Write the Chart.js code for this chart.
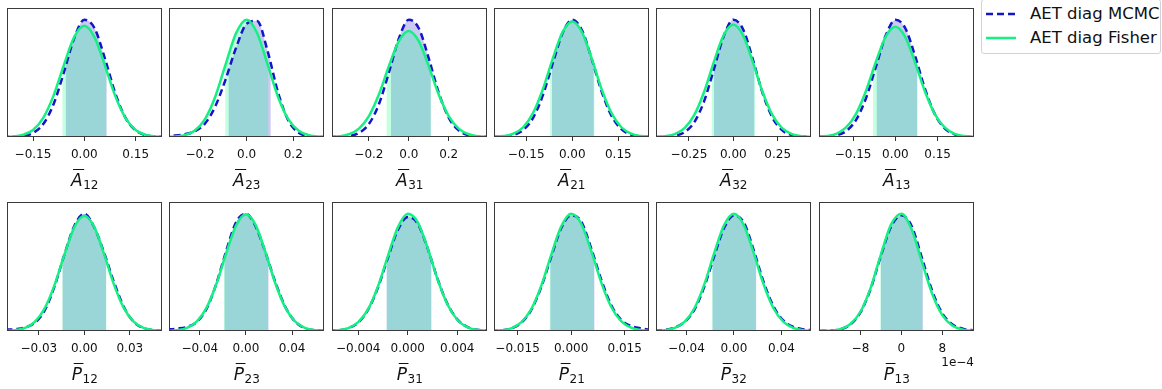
<!DOCTYPE html>
<html lang="en">
<head>
<meta charset="UTF-8">
<title>AET diag MCMC vs Fisher</title>
<script src="https://cdn.jsdelivr.net/npm/chart.js"></script>
<style>
    body { margin: 0; background: #fff; font-family: 'DejaVu Sans', sans-serif; }
    #wrap { position: relative; width: 1162px; height: 389px; overflow: hidden; }
    #wrap canvas { position: absolute; }
    #legend {
        position: absolute; left: 981px; top: -1px; width: 178px; height: 53px;
        border: 1px solid #d3d3d3; border-radius: 3px; background: #fff;
    }
    #legend .item { position: absolute; left: 4px; height: 20px; display: flex; align-items: center; }
    #legend svg { margin-right: 14px; }
    #legend span { font-family: 'DejaVu Sans', sans-serif; font-size: 16.5px; line-height: 20px; color: #111; white-space: nowrap; }
</style>
</head>
<body>
<div id="wrap">
    <div id="legend">
        <div class="item" style="top:4px">
            <svg width="30" height="6"><line x1="0" y1="3" x2="30" y2="3" stroke="rgb(20,20,200)" stroke-width="2.5" stroke-dasharray="7 4"/></svg>
            <span>AET diag MCMC</span>
        </div>
        <div class="item" style="top:28px">
            <svg width="30" height="6"><line x1="0" y1="3" x2="30" y2="3" stroke="rgb(20,240,130)" stroke-width="2.5"/></svg>
            <span>AET diag Fisher</span>
        </div>
    </div>
</div>

<script>
// parameter names: letter + subscript
const symbols = ['A', 'A', 'A', 'A', 'A', 'A', 'P', 'P', 'P', 'P', 'P', 'P'];
const subscripts = ['12', '23', '31', '21', '32', '13', '12', '23', '31', '21', '32', '13'];

// axis limits, ticks and tick labels per panel
const xLimits = [
    [-0.226, 0.227], [-0.333, 0.332], [-0.385, 0.392], [-0.255, 0.250], [-0.436, 0.438], [-0.271, 0.279],
    [-0.051, 0.0512], [-0.0667, 0.0676], [-0.00612, 0.0064], [-0.0216, 0.0218], [-0.0657, 0.0649], [-16.1e-4, 14.2e-4]
];
const tickValues = [
    [-0.15, 0, 0.15], [-0.2, 0, 0.2], [-0.2, 0, 0.2], [-0.15, 0, 0.15], [-0.25, 0, 0.25], [-0.15, 0, 0.15],
    [-0.03, 0, 0.03], [-0.04, 0, 0.04], [-0.004, 0, 0.004], [-0.015, 0, 0.015], [-0.04, 0, 0.04], [-8e-4, 0, 8e-4]
];
const tickLabels = [
    ['\u22120.15', '0.00', '0.15'], ['\u22120.2', '0.0', '0.2'], ['\u22120.2', '0.0', '0.2'],
    ['\u22120.15', '0.00', '0.15'], ['\u22120.25', '0.00', '0.25'], ['\u22120.15', '0.00', '0.15'],
    ['\u22120.03', '0.00', '0.03'], ['\u22120.04', '0.00', '0.04'], ['\u22120.004', '0.000', '0.004'],
    ['\u22120.015', '0.000', '0.015'], ['\u22120.04', '0.00', '0.04'], ['\u22128', '0', '8']
];
const offsetLabels = ['', '', '', '', '', '', '', '', '', '', '', '1e\u22124'];

// sample positions of the marginal posteriors
const xSamples = [
    [-0.24, -0.21, -0.18, -0.15, -0.12, -0.09, -0.06, -0.03, 0, 0.03, 0.06, 0.09, 0.12, 0.15, 0.18, 0.21, 0.24],
    [-0.36, -0.315, -0.27, -0.225, -0.18, -0.135, -0.09, -0.045, 0, 0.045, 0.09, 0.135, 0.18, 0.225, 0.27, 0.315, 0.36],
    [-0.4, -0.35, -0.3, -0.25, -0.2, -0.15, -0.1, -0.05, 0, 0.05, 0.1, 0.15, 0.2, 0.25, 0.3, 0.35, 0.4],
    [-0.256, -0.224, -0.192, -0.16, -0.128, -0.096, -0.064, -0.032, 0, 0.032, 0.064, 0.096, 0.128, 0.16, 0.192, 0.224, 0.256],
    [-0.44, -0.385, -0.33, -0.275, -0.22, -0.165, -0.11, -0.055, 0, 0.055, 0.11, 0.165, 0.22, 0.275, 0.33, 0.385, 0.44],
    [-0.28, -0.245, -0.21, -0.175, -0.14, -0.105, -0.07, -0.035, 0, 0.035, 0.07, 0.105, 0.14, 0.175, 0.21, 0.245, 0.28],
    [-0.052, -0.0455, -0.039, -0.0325, -0.026, -0.0195, -0.013, -0.0065, 0, 0.0065, 0.013, 0.0195, 0.026, 0.0325, 0.039, 0.0455, 0.052],
    [-0.068, -0.0595, -0.051, -0.0425, -0.034, -0.0255, -0.017, -0.0085, 0, 0.0085, 0.017, 0.0255, 0.034, 0.0425, 0.051, 0.0595, 0.068],
    [-0.0064, -0.0056, -0.0048, -0.004, -0.0032, -0.0024, -0.0016, -0.0008, 0, 0.0008, 0.0016, 0.0024, 0.0032, 0.004, 0.0048, 0.0056, 0.0064],
    [-0.0224, -0.0196, -0.0168, -0.014, -0.0112, -0.0084, -0.0056, -0.0028, 0, 0.0028, 0.0056, 0.0084, 0.0112, 0.014, 0.0168, 0.0196, 0.0224],
    [-0.0664, -0.0581, -0.0498, -0.0415, -0.0332, -0.0249, -0.0166, -0.0083, 0, 0.0083, 0.0166, 0.0249, 0.0332, 0.0415, 0.0498, 0.0581, 0.0664],
    [-16e-4, -14e-4, -12e-4, -10e-4, -8e-4, -6e-4, -4e-4, -2e-4, 0, 2e-4, 4e-4, 6e-4, 8e-4, 10e-4, 12e-4, 14e-4, 16e-4]
];

// MCMC posterior density (arbitrary normalisation)
const mcmcDensity = [
    [0.000, 0.002, 0.008, 0.034, 0.110, 0.278, 0.546, 0.835, 0.995, 0.923, 0.667, 0.375, 0.164, 0.056, 0.015, 0.003, 0.001],
    [0.006, 0.012, 0.022, 0.045, 0.110, 0.256, 0.487, 0.755, 0.956, 0.980, 0.726, 0.375, 0.135, 0.034, 0.006, 0.001, 0.000],
    [0.000, 0.002, 0.008, 0.034, 0.110, 0.278, 0.546, 0.835, 0.995, 0.923, 0.667, 0.375, 0.164, 0.056, 0.015, 0.003, 0.001],
    [0.001, 0.004, 0.017, 0.059, 0.161, 0.354, 0.624, 0.883, 0.999, 0.907, 0.660, 0.385, 0.180, 0.067, 0.020, 0.005, 0.001],
    [0.000, 0.002, 0.011, 0.041, 0.126, 0.303, 0.574, 0.854, 0.997, 0.916, 0.660, 0.374, 0.167, 0.058, 0.016, 0.003, 0.001],
    [0.001, 0.003, 0.014, 0.050, 0.143, 0.325, 0.590, 0.858, 0.997, 0.926, 0.688, 0.409, 0.194, 0.074, 0.022, 0.005, 0.001],
    [0.010, 0.016, 0.030, 0.072, 0.178, 0.385, 0.655, 0.895, 0.995, 0.880, 0.665, 0.415, 0.205, 0.078, 0.024, 0.006, 0.001],
    [0.012, 0.020, 0.034, 0.078, 0.190, 0.405, 0.680, 0.920, 0.990, 0.880, 0.660, 0.410, 0.205, 0.080, 0.024, 0.006, 0.001],
    [0.001, 0.006, 0.024, 0.073, 0.182, 0.372, 0.625, 0.860, 0.970, 0.915, 0.705, 0.445, 0.232, 0.099, 0.035, 0.010, 0.002],
    [0.001, 0.005, 0.021, 0.070, 0.178, 0.372, 0.630, 0.875, 0.985, 0.935, 0.705, 0.440, 0.222, 0.095, 0.043, 0.022, 0.010],
    [0.003, 0.010, 0.030, 0.078, 0.185, 0.380, 0.640, 0.880, 0.985, 0.925, 0.690, 0.420, 0.212, 0.090, 0.036, 0.015, 0.006],
    [0.001, 0.003, 0.014, 0.054, 0.158, 0.360, 0.640, 0.890, 0.985, 0.895, 0.625, 0.345, 0.150, 0.056, 0.020, 0.007, 0.002]
];

// Fisher forecast density (same normalisation)
const fisherDensity = [
    [0.001, 0.004, 0.018, 0.060, 0.163, 0.351, 0.608, 0.845, 0.943, 0.845, 0.608, 0.351, 0.163, 0.060, 0.018, 0.004, 0.001],
    [0.000, 0.003, 0.013, 0.050, 0.146, 0.338, 0.614, 0.878, 0.990, 0.878, 0.614, 0.338, 0.146, 0.050, 0.013, 0.003, 0.000],
    [0.001, 0.006, 0.023, 0.071, 0.178, 0.361, 0.600, 0.813, 0.900, 0.813, 0.600, 0.361, 0.178, 0.071, 0.023, 0.006, 0.001],
    [0.002, 0.008, 0.028, 0.083, 0.203, 0.405, 0.663, 0.891, 0.984, 0.891, 0.663, 0.405, 0.203, 0.083, 0.028, 0.008, 0.002],
    [0.001, 0.007, 0.025, 0.075, 0.188, 0.383, 0.637, 0.864, 0.956, 0.864, 0.637, 0.383, 0.188, 0.075, 0.025, 0.007, 0.001],
    [0.002, 0.008, 0.027, 0.081, 0.195, 0.387, 0.633, 0.850, 0.937, 0.850, 0.633, 0.387, 0.195, 0.081, 0.027, 0.008, 0.002],
    [0.002, 0.007, 0.026, 0.079, 0.196, 0.396, 0.654, 0.883, 0.977, 0.883, 0.654, 0.396, 0.196, 0.079, 0.026, 0.007, 0.002],
    [0.002, 0.007, 0.027, 0.081, 0.199, 0.401, 0.661, 0.892, 0.986, 0.892, 0.661, 0.401, 0.199, 0.081, 0.027, 0.007, 0.002],
    [0.001, 0.007, 0.025, 0.075, 0.186, 0.381, 0.640, 0.882, 0.998, 0.927, 0.707, 0.442, 0.227, 0.096, 0.033, 0.009, 0.002],
    [0.001, 0.006, 0.023, 0.073, 0.184, 0.382, 0.646, 0.890, 0.999, 0.916, 0.684, 0.417, 0.207, 0.084, 0.028, 0.007, 0.002],
    [0.001, 0.007, 0.026, 0.079, 0.196, 0.400, 0.666, 0.903, 1.000, 0.903, 0.666, 0.400, 0.196, 0.079, 0.026, 0.007, 0.001],
    [0.001, 0.003, 0.016, 0.058, 0.164, 0.368, 0.651, 0.908, 0.999, 0.866, 0.592, 0.319, 0.135, 0.045, 0.012, 0.002, 0.000]
];

// 68% intervals that get shaded under each curve
const mcmcBands = [
    [-0.054, 0.065], [-0.077, 0.103], [-0.089, 0.110], [-0.066, 0.070], [-0.109, 0.118], [-0.066, 0.077],
    [-0.0143, 0.0143], [-0.0185, 0.0195], [-0.0017, 0.0019], [-0.0058, 0.0065], [-0.018, 0.0187], [-4.0e-4, 4.2e-4]
];
const fisherBands = [
    [-0.064, 0.064], [-0.092, 0.092], [-0.111, 0.111], [-0.072, 0.072], [-0.122, 0.122], [-0.079, 0.079],
    [-0.0145, 0.0145], [-0.019, 0.019], [-0.0017, 0.0019], [-0.006, 0.0064], [-0.0184, 0.0184], [-4.1e-4, 4.1e-4]
];

const MCMC_COLOR = 'rgb(20,20,200)';
const FISHER_COLOR = 'rgb(20,240,130)';
const MCMC_FILL = 'rgba(20,20,200,0.23)';
const FISHER_FILL = 'rgba(0,255,127,0.23)';
const FONT = '"DejaVu Sans", sans-serif';

const PANEL_LEFT = [7, 169, 332, 494, 656, 819];
const ROW_TOP = [8, 202];
const PANEL_W = 155, PANEL_H = 129;
const PAD_L = 8, PAD_R = 8, PAD_T = 4, AXIS_H = 58;

// shade the interval under a curve, MCMC first then Fisher on top
const bandPlugin = {
    id: 'bands',
    beforeDatasetsDraw(chart) {
        const ctx = chart.ctx;
        const a = chart.chartArea;
        const xs = chart.scales.x, ys = chart.scales.y;
        const base = ys.getPixelForValue(0);
        [1, 0].forEach(k => {
            const ds = chart.data.datasets[k];
            const line = chart.getDatasetMeta(k).dataset;
            line.updateControlPoints(a, 'x');
            const pts = line.points;
            const x0 = Math.max(xs.getPixelForValue(ds.band[0]), a.left);
            const x1 = Math.min(xs.getPixelForValue(ds.band[1]), a.right);
            ctx.save();
            ctx.beginPath();
            ctx.rect(x0, a.top, x1 - x0, a.bottom - a.top);
            ctx.clip();
            ctx.beginPath();
            if (typeof line.path === 'function') {
                line.path(ctx);
            } else {
                pts.forEach((p, j) => j ? ctx.lineTo(p.x, p.y) : ctx.moveTo(p.x, p.y));
            }
            ctx.lineTo(pts[pts.length - 1].x, base);
            ctx.lineTo(pts[0].x, base);
            ctx.closePath();
            ctx.fillStyle = ds.bandColor;
            ctx.fill();
            ctx.restore();
        });
    }
};

// axes frame, parameter label and the offset text
const framePlugin = {
    id: 'frame',
    afterDatasetsDraw(chart) {
        const ctx = chart.ctx, a = chart.chartArea;
        ctx.save();
        ctx.strokeStyle = '#3a3a3a';
        ctx.lineWidth = 1;
        ctx.strokeRect(Math.round(a.left) + 0.5, Math.round(a.top) + 0.5,
            Math.round(a.right - a.left) - 1, Math.round(a.bottom - a.top) - 1);
        ctx.restore();
    },
    afterDraw(chart) {
        const ctx = chart.ctx, a = chart.chartArea;
        const i = chart.options.plugins.frame.panel;
        const cx = (a.left + a.right) / 2;
        const by = a.bottom + 49;
        ctx.save();
        ctx.fillStyle = '#111';
        ctx.textBaseline = 'alphabetic';
        ctx.textAlign = 'left';
        ctx.font = 'italic 17px ' + FONT;
        const wL = ctx.measureText(symbols[i]).width;
        ctx.font = '12px ' + FONT;
        const wS = ctx.measureText(subscripts[i]).width;
        const x0 = cx - (wL + wS) / 2;
        ctx.font = 'italic 17px ' + FONT;
        ctx.fillText(symbols[i], x0, by);
        ctx.font = '12px ' + FONT;
        ctx.fillText(subscripts[i], x0 + wL + 0.5, by + 2.5);
        // overline on the letter
        ctx.strokeStyle = '#111';
        ctx.lineWidth = 1;
        ctx.beginPath();
        ctx.moveTo(x0 + 2, by - 16.5);
        ctx.lineTo(x0 + wL + 1.5, by - 16.5);
        ctx.stroke();
        if (offsetLabels[i]) {
            ctx.textAlign = 'right';
            ctx.font = '12px ' + FONT;
            ctx.fillText(offsetLabels[i], a.right, a.bottom + 35);
        }
        ctx.restore();
    }
};

const wrap = document.getElementById('wrap');

symbols.forEach((sym, i) => {
    const row = Math.floor(i / 6), col = i % 6;
    const canvas = document.createElement('canvas');
    const w = PANEL_W + PAD_L + PAD_R;
    const h = PANEL_H + PAD_T + AXIS_H;
    canvas.width = w;
    canvas.height = h;
    canvas.style.width = w + 'px';
    canvas.style.height = h + 'px';
    canvas.style.left = (PANEL_LEFT[col] - PAD_L) + 'px';
    canvas.style.top = (ROW_TOP[row] - PAD_T) + 'px';
    wrap.appendChild(canvas);

    const xs = xSamples[i];
    const peak = Math.max(...mcmcDensity[i], ...fisherDensity[i]);

    new Chart(canvas.getContext('2d'), {
        type: 'line',
        data: {
            datasets: [
                {
                    label: 'AET diag Fisher',
                    data: xs.map((x, j) => ({ x: x, y: fisherDensity[i][j] })),
                    borderColor: FISHER_COLOR,
                    borderWidth: 2.5,
                    pointRadius: 0,
                    cubicInterpolationMode: 'monotone',
                    fill: false,
                    band: fisherBands[i],
                    bandColor: FISHER_FILL
                },
                {
                    label: 'AET diag MCMC',
                    data: xs.map((x, j) => ({ x: x, y: mcmcDensity[i][j] })),
                    borderColor: MCMC_COLOR,
                    borderWidth: 2.5,
                    borderDash: [7, 4],
                    pointRadius: 0,
                    cubicInterpolationMode: 'monotone',
                    fill: false,
                    band: mcmcBands[i],
                    bandColor: MCMC_FILL
                }
            ]
        },
        options: {
            responsive: false,
            animation: false,
            devicePixelRatio: 1,
            events: [],
            layout: { padding: { left: PAD_L, right: PAD_R, top: PAD_T, bottom: 0 } },
            plugins: {
                legend: { display: false },
                tooltip: { enabled: false },
                frame: { panel: i }
            },
            scales: {
                x: {
                    type: 'linear',
                    min: xLimits[i][0],
                    max: xLimits[i][1],
                    afterBuildTicks: scale => { scale.ticks = tickValues[i].map(v => ({ value: v })); },
                    afterFit: scale => { scale.height = AXIS_H; },
                    ticks: {
                        autoSkip: false,
                        maxRotation: 0,
                        padding: 7,
                        color: '#111',
                        font: { family: FONT, size: 12 },
                        callback: (v, idx) => tickLabels[i][idx]
                    },
                    grid: { drawOnChartArea: false, drawTicks: true, tickLength: 4, color: '#333' },
                    border: { display: false }
                },
                y: { display: false, min: 0, max: peak * 1.1 }
            }
        },
        plugins: [bandPlugin, framePlugin]
    });
});
</script>
</body>
</html>
